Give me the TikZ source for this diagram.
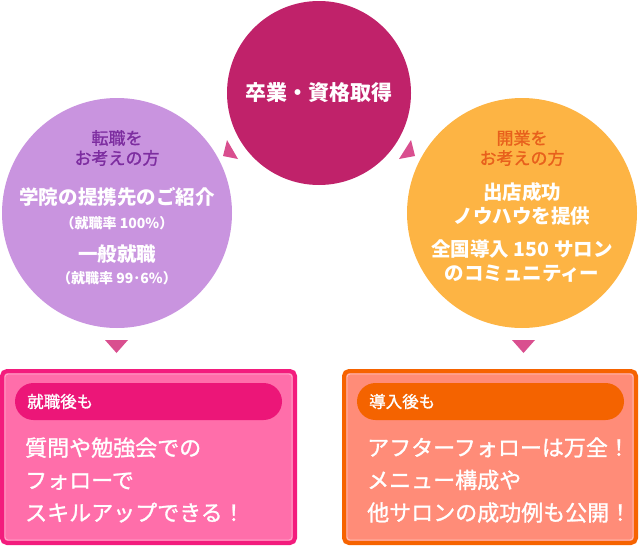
\documentclass[tikz,border=0pt]{standalone}
\usepackage{fontspec}
\setmainfont{Noto Sans CJK JP}
\newfontfamily\jpmedium{Noto Sans CJK JP}[FakeBold=1.2]
\definecolor{gradmag}{RGB}{192,34,106}
\definecolor{joblilac}{RGB}{201,148,223}
\definecolor{jobpurple}{RGB}{125,45,160}
\definecolor{openorange}{RGB}{253,180,68}
\definecolor{openrust}{RGB}{232,96,28}
\definecolor{tipPink}{RGB}{217,79,143}
\definecolor{jobframe}{RGB}{243,28,125}
\definecolor{jobfill}{RGB}{255,110,170}
\definecolor{jobpill}{RGB}{236,22,120}
\definecolor{jobline}{RGB}{255,170,205}
\definecolor{openframe}{RGB}{246,99,0}
\definecolor{openfill}{RGB}{255,140,120}
\definecolor{openpill}{RGB}{244,99,0}
\definecolor{openline}{RGB}{255,195,180}

\tikzset{
    sv circle/.style={circle, inner sep=0pt, minimum size=#1},
    sv top/.style={text=white, font=\fontsize{21}{24}\selectfont\bfseries},
    sv lead/.style={align=center, inner sep=0pt,
                    font=\fontsize{17}{20}\selectfont\jpmedium},
    sv main/.style={align=center, inner sep=0pt, text=white,
                    font=\fontsize{19.5}{24}\selectfont\bfseries},
    sv note/.style={inner sep=0pt, text=white,
                    font=\fontsize{14}{15}\selectfont\bfseries},
    sv tip/.style={fill=tipPink},
    sv frame/.style={line width=4pt, rounded corners=5pt},
    sv inner/.style={line width=0.8pt, rounded corners=3pt},
    sv pill/.style={rounded corners=18.5pt},
    sv label/.style={anchor=west, inner sep=0pt, text=white,
                     font=\fontsize{16.5}{20}\selectfont\jpmedium},
    sv body/.style={anchor=west, align=left, inner sep=0pt, text=white,
                    font=\fontsize{22}{32.5}\selectfont\jpmedium},
}

\begin{document}
\begin{tikzpicture}[x=1pt, y=-1pt]
    \useasboundingbox (0,0) rectangle (639,546);
    % Three circles
    \node[sv circle=184pt, fill=gradmag, sv top] (grad) at (319,93) {卒業・資格取得};
    \node[sv circle=230pt, fill=joblilac] (job) at (117,213) {};
    \node[sv circle=230pt, fill=openorange] (open) at (522,213) {};
    % Left circle -- job change
    \node[sv lead, text=jobpurple] (jobwho) at (117,148) {転職を\\お考えの方};
    \node[sv main] (jobpartner) at (117,197) {学院の提携先のご紹介};
    \node[sv note] (jobrate) at (117,223) {（就職率 100\%）};
    \node[sv main] (jobgeneral) at (117,254) {一般就職};
    \node[sv note] (jobrate2) at (117,278) {（就職率 99･6\%）};
    % Right circle -- opening a salon
    \node[sv lead, text=openrust] (openwho) at (522,148) {開業を\\お考えの方};
    \node[sv main] (openknow) at (522,204) {出店成功\\ノウハウを提供};
    \node[sv main] (opencomm) at (522,261.5) {全国導入 150 サロン\\のコミュニティー};
    % Small pointers
    \fill[sv tip] (227,140) -- (223,156) -- (238,159) -- cycle;
    \fill[sv tip] (411,140) -- (399,159) -- (415,156) -- cycle;
    \fill[sv tip] (105,340) -- (128,340) -- (116.5,353) -- cycle;
    \fill[sv tip] (512,340) -- (535,340) -- (523.5,353) -- cycle;
    % Left box
    \draw[sv frame, draw=jobframe, fill=jobfill] (2,371) rectangle (295,543);
    \draw[sv inner, draw=jobline] (5,374) rectangle (292,540);
    \fill[sv pill, jobpill] (15,383) rectangle (282,420);
    \node[sv label] (jobafter) at (27,401.5) {就職後も};
    \node[sv body] (jobtext) at (25,480) {質問や勉強会での\\フォローで\\スキルアップできる！};
    % Right box
    \draw[sv frame, draw=openframe, fill=openfill] (344,371) rectangle (636,543);
    \draw[sv inner, draw=openline] (347,374) rectangle (633,540);
    \fill[sv pill, openpill] (357,383) rectangle (624,420);
    \node[sv label] (openafter) at (369,401.5) {導入後も};
    \node[sv body] (opentext) at (367,480) {アフターフォローは万全！\\メニュー構成や\\他サロンの成功例も公開！};
\end{tikzpicture}
\end{document}
